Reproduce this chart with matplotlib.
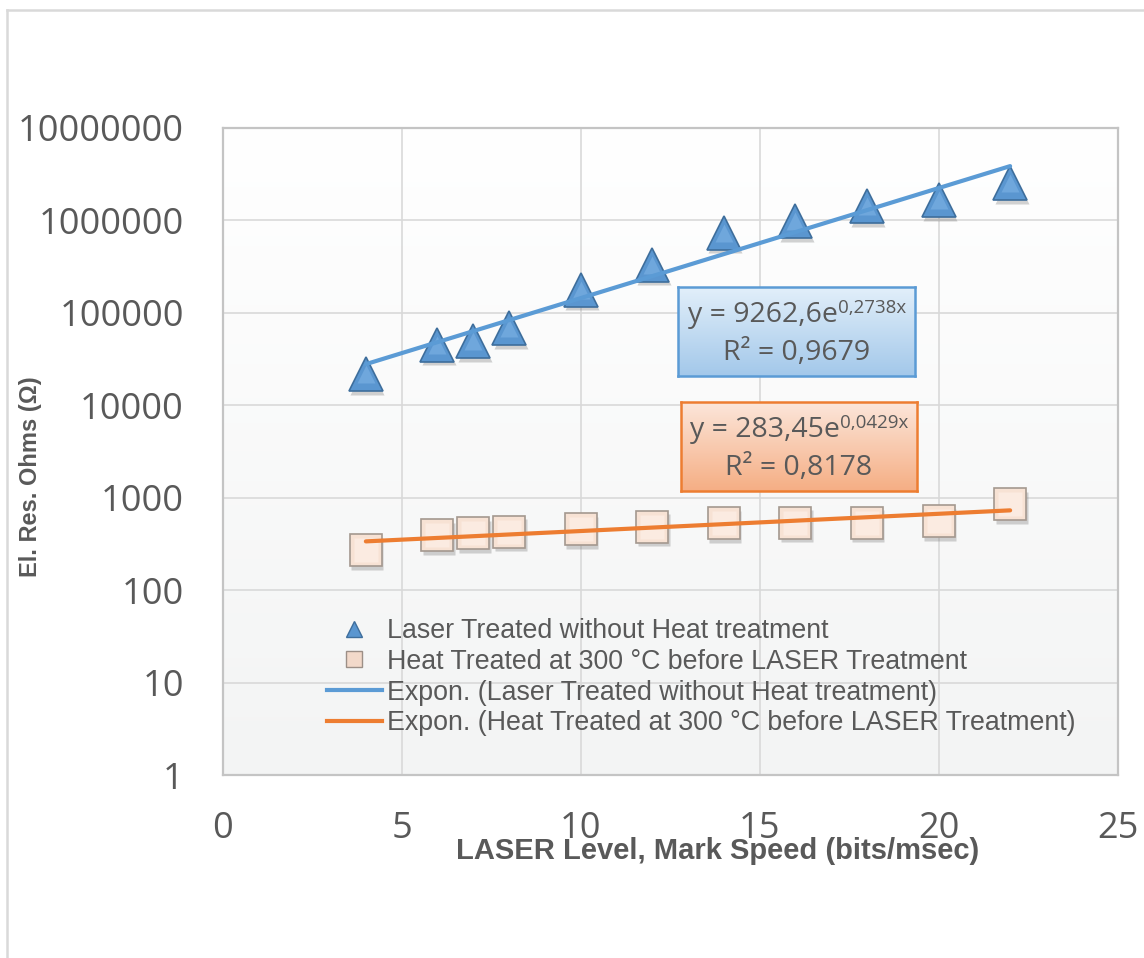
import numpy as np
import matplotlib
matplotlib.use("Agg")
import matplotlib.pyplot as plt
from matplotlib import transforms
from matplotlib.lines import Line2D
from matplotlib.ticker import FixedLocator, FuncFormatter, NullLocator

# ---------------- data ----------------
laser_level = [4, 6, 7, 8, 10, 12, 14, 16, 18, 20, 22]
res_laser_only = [21500, 44800, 49200, 68000, 176000, 328000, 733000, 975000, 1410000, 1640000, 2500000]
res_heat_300 = [269, 393, 412, 429, 453, 486, 529, 532, 532, 557, 851]

# exponential trendline coefficients as printed in the chart
fit_laser = (9262.6, 0.2738)
fit_heat = (283.45, 0.0429)
eq_laser = ["y = 9262,6e", "0,2738x", "R² = 0,9679"]
eq_heat = ["y = 283,45e", "0,0429x", "R² = 0,8178"]

series_names = ["Laser Treated without Heat treatment",
                "Heat Treated at 300 °C before LASER Treatment",
                "Expon. (Laser Treated without Heat treatment)",
                "Expon. (Heat Treated at 300 °C before LASER Treatment)"]

x_ticks = [0, 5, 10, 15, 20, 25]
y_ticks = [1, 10, 100, 1000, 10000, 100000, 1000000, 10000000]

# ---------------- style ----------------
TXT = '#595959'
BLUE = '#5B9BD5'
ORANGE = '#ED7D31'

W, H = 1144, 958
fig = plt.figure(figsize=(W / 100, H / 100), dpi=100)
fig.patch.set_facecolor('white')

def fx(px):
    return px / W

def fy(py):
    return 1 - py / H

L, R, T, B = 222.7, 1117.5, 127.5, 775.2
pos = [fx(L), fy(B), fx(R) - fx(L), fy(T) - fy(B)]

# gradient background for plot area
bg = fig.add_axes(pos, zorder=0)
grad = np.linspace(0, 1, 256).reshape(-1, 1)
c_top = np.array([1.0, 1.0, 1.0])
c_bot = np.array([0.953, 0.957, 0.957])
img = c_top[None, None, :] * (1 - grad[:, :, None]) + c_bot[None, None, :] * grad[:, :, None]
bg.imshow(img, aspect='auto', extent=[0, 1, 0, 1], origin='upper')
bg.axis('off')

ax = fig.add_axes(pos, zorder=1)
ax.set_facecolor('none')
ax.set_yscale('log')
ax.set_xlim(0, 25)
ax.set_ylim(1, 10000000)

ax.xaxis.set_major_locator(FixedLocator(x_ticks))
ax.yaxis.set_major_locator(FixedLocator(y_ticks))
ax.yaxis.set_minor_locator(NullLocator())
ax.yaxis.set_major_formatter(FuncFormatter(lambda v, p: f"{int(round(v))}"))
ax.xaxis.set_major_formatter(FuncFormatter(lambda v, p: f"{int(round(v))}"))
ax.tick_params(axis='both', length=0, labelsize=26, labelcolor=TXT)
ax.tick_params(axis='y', pad=28)
ax.tick_params(axis='x', pad=26)
for lab in ax.get_xticklabels() + ax.get_yticklabels():
    lab.set_fontfamily('Open Sans')

ax.grid(True, color='#D9D9D9', lw=1.2, zorder=0)
ax.set_axisbelow(True)
for s in ax.spines.values():
    s.set_color('#C4C4C4')
    s.set_linewidth(1.6)

# shadows
shadow = transforms.offset_copy(ax.transData, fig=fig, x=1.5, y=-3.5, units='dots')
ax.plot(laser_level, res_laser_only, ls='none', marker='^', ms=25, mfc='#7f7f7f',
        mec='none', alpha=0.35, transform=shadow, zorder=2)
ax.plot(laser_level, res_heat_300, ls='none', marker='s', ms=23, mfc='#7f7f7f',
        mec='none', alpha=0.35, transform=shadow, zorder=2)

# markers
ax.plot(laser_level, res_laser_only, ls='none', marker='^', ms=25, mfc='#5A96D0',
        mec='#3E6E9C', mew=1.2, zorder=3)
ax.plot(laser_level, res_laser_only, ls='none', marker='^', ms=13, mfc='#6FA7DC',
        mec='none', zorder=3.1)
ax.plot(laser_level, res_heat_300, ls='none', marker='s', ms=23, mfc='#F7E2D4',
        mec='#A4988F', mew=1.2, zorder=3)
ax.plot(laser_level, res_heat_300, ls='none', marker='s', ms=17, mfc='#FBEBE1',
        mec='none', zorder=3.1)

# trendlines
xs = np.linspace(min(laser_level), max(laser_level), 100)
ax.plot(xs, fit_laser[0] * np.exp(fit_laser[1] * xs), color=BLUE, lw=3.0,
        zorder=4, solid_capstyle='round')
ax.plot(xs, fit_heat[0] * np.exp(fit_heat[1] * xs), color=ORANGE, lw=3.0,
        zorder=4, solid_capstyle='round')

# legend
handles = [
    Line2D([], [], ls='none', marker='^', ms=12, mfc='#5A96D0', mec='#3E6E9C'),
    Line2D([], [], ls='none', marker='s', ms=12, mfc='#F2D9CA', mec='#9C8F87'),
    Line2D([], [], color=BLUE, lw=3),
    Line2D([], [], color=ORANGE, lw=3),
]
leg = fig.legend(handles, series_names, loc='upper left',
                 bbox_to_anchor=(fx(327), fy(618)), frameon=False,
                 prop={'family': 'Liberation Sans', 'size': 19.3},
                 handlelength=2.05, handletextpad=0.18, labelspacing=0.18,
                 borderpad=0, borderaxespad=0)
for t in leg.get_texts():
    t.set_color(TXT)

# axis labels
fig.text(fx(31), fy(477), "El. Res. Ohms (Ω)", rotation=90, ha='center', va='center',
         fontsize=17, fontweight='bold', color=TXT, family='Liberation Sans')
fig.text(fx(718), fy(851), "LASER Level, Mark Speed (bits/msec)", ha='center', va='center',
         fontsize=21, fontweight='bold', color=TXT, family='Liberation Sans')

# equation boxes
def eq_box(x0, y0, x1, y1, ctop, cbot, edge, lines, tx):
    bax = fig.add_axes([fx(x0), fy(y1), fx(x1) - fx(x0), fy(y0) - fy(y1)], zorder=5)
    g = np.linspace(0, 1, 128).reshape(-1, 1)
    ct = np.array(matplotlib.colors.to_rgb(ctop))
    cb = np.array(matplotlib.colors.to_rgb(cbot))
    im = ct[None, None, :] * (1 - g[:, :, None]) + cb[None, None, :] * g[:, :, None]
    bax.imshow(im, aspect='auto', extent=[0, 1, 0, 1], origin='upper')
    bax.set_xlim(0, 1)
    bax.set_ylim(0, 1)
    bax.set_xticks([])
    bax.set_yticks([])
    for s in bax.spines.values():
        s.set_color(edge)
        s.set_linewidth(1.8)
    main = bax.text((tx - x0) / (x1 - x0), 0.68, lines[0], ha='left', va='center',
                    fontsize=20.5, color=TXT, family='Open Sans')
    bax.annotate(lines[1], xy=(1.0, 0.78), xycoords=main, ha='left', va='center',
                 fontsize=13.5, color=TXT, family='Open Sans')
    bax.text(0.5, 0.26, lines[2], ha='center', va='center', fontsize=20.5, color=TXT,
             family='Open Sans')

eq_box(678, 287, 915, 376, '#E2EFFA', '#A3C8EA', BLUE, eq_laser, 688)
eq_box(681, 402, 917, 491, '#FCE6DA', '#F5AE84', ORANGE, eq_heat, 690)

# outer chart border (left and top visible)
fig.add_artist(Line2D([fx(6.5), fx(6.5)], [0, fy(10)], color='#D9D9D9', lw=1.8,
                      transform=fig.transFigure))
fig.add_artist(Line2D([fx(6.5), 1], [fy(10), fy(10)], color='#D9D9D9', lw=1.8,
                      transform=fig.transFigure))

fig.savefig('out.png', dpi=100)
